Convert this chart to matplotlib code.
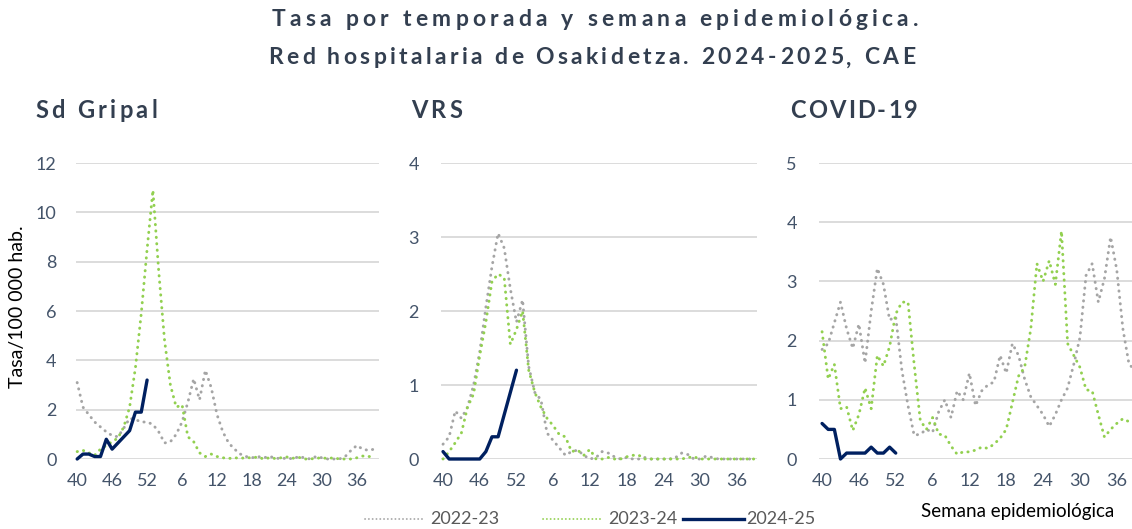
import numpy as np
import matplotlib
matplotlib.use('Agg')
import matplotlib.pyplot as plt
from matplotlib.font_manager import FontProperties
from matplotlib.lines import Line2D

plt.rcParams['font.family'] = ['Lato', 'DejaVu Sans']

# semanas epidemiologicas 40..52 y 1..39
weeks = list(range(40, 53)) + list(range(1, 40))
idx = np.arange(len(weeks))
season_labels = ['2022-23', '2023-24', '2024-25']

# Sd Gripal
gripe_2223 = [3.1, 2.1, 1.8, 1.5, 1.3, 1.1, 0.95, 0.9, 1.25, 1.65,
              1.6, 1.5, 1.5, 1.4, 1.1, 0.65, 0.7, 1.0, 1.5, 2.3,
              3.25, 2.4, 3.6, 2.9, 1.8, 1.1, 0.65, 0.4, 0.2, 0.1,
              0.05, 0.1, 0.05, 0.1, 0.05, 0.0, 0.05, 0.0, 0.1, 0.05,
              0.0, 0.1, 0.05, 0.0, 0.0, 0.0, 0.1, 0.35, 0.55, 0.4,
              0.35, 0.4]
gripe_2324 = [0.3, 0.35, 0.25, 0.15, 0.4, 0.55, 0.7, 0.85, 1.3, 2.1,
              3.7, 5.9, 8.5, 10.9, 7.6, 4.8, 3.0, 2.1, 2.2, 0.9,
              0.7, 0.25, 0.1, 0.2, 0.1, 0.05, 0.02, 0.05, 0.03, 0.05,
              0.05, 0.08, 0.0, 0.05, 0.02, 0.05, 0.08, 0.03, 0.07, 0.0,
              0.0, 0.03, 0.05, 0.02, 0.05, 0.0, 0.0, 0.0, 0.05, 0.12,
              0.1, 0.1]
gripe_2425 = [0.0, 0.2, 0.2, 0.1, 0.1, 0.8, 0.4, 0.65, 0.9, 1.15, 1.9, 1.9, 3.2]

# VRS
vrs_2223 = [0.2, 0.3, 0.65, 0.55, 0.7, 1.0, 1.45, 2.05, 2.6, 3.05,
            2.85, 2.3, 1.85, 2.15, 1.25, 0.9, 0.8, 0.35, 0.25, 0.15,
            0.05, 0.1, 0.12, 0.05, 0.0, 0.02, 0.1, 0.08, 0.03, 0.0,
            0.02, 0.0, 0.0, 0.02, 0.0, 0.0, 0.0, 0.0, 0.02, 0.08,
            0.06, 0.0, 0.0, 0.04, 0.02, 0.0, 0.0, 0.0, 0.0, 0.0,
            0.0, 0.0]
vrs_2324 = [0.0, 0.1, 0.22, 0.35, 0.7, 0.88, 1.4, 1.85, 2.4, 2.5,
            2.45, 1.55, 1.75, 2.0, 1.2, 0.9, 0.7, 0.55, 0.45, 0.33,
            0.3, 0.1, 0.12, 0.05, 0.13, 0.0, 0.0, 0.02, 0.0, 0.0,
            0.03, 0.05, 0.05, 0.0, 0.0, 0.0, 0.0, 0.0, 0.0, 0.0,
            0.02, 0.03, 0.0, 0.0, 0.0, 0.0, 0.0, 0.0, 0.0, 0.0,
            0.0, 0.0]
vrs_2425 = [0.1, 0.0, 0.0, 0.0, 0.0, 0.0, 0.0, 0.1, 0.3, 0.3, 0.6, 0.9, 1.2]

# COVID-19
covid_2223 = [1.85, 1.95, 2.3, 2.65, 2.2, 1.87, 2.28, 1.62, 2.5, 3.22,
              2.95, 2.35, 2.4, 1.5, 0.9, 0.4, 0.42, 0.5, 0.45, 0.8,
              1.0, 0.7, 1.15, 1.0, 1.45, 0.9, 1.15, 1.25, 1.3, 1.75,
              1.45, 1.95, 1.75, 1.35, 1.05, 0.9, 0.75, 0.55, 0.75, 1.0,
              1.2, 1.6, 2.05, 3.1, 3.3, 2.65, 3.05, 3.75, 3.2, 2.2,
              1.6, 1.5]
covid_2324 = [2.15, 1.35, 1.6, 0.85, 0.88, 0.48, 0.75, 1.2, 0.85, 1.75,
              1.57, 1.9, 2.45, 2.65, 2.65, 1.6, 0.65, 0.5, 0.7, 0.42,
              0.4, 0.22, 0.08, 0.12, 0.12, 0.15, 0.2, 0.18, 0.25, 0.35,
              0.5, 0.95, 1.4, 1.55, 2.2, 3.3, 3.0, 3.35, 2.95, 3.85,
              1.95, 1.75, 1.55, 1.17, 1.15, 0.75, 0.37, 0.5, 0.6, 0.68,
              0.63, 0.62]
covid_2425 = [0.6, 0.5, 0.5, 0.0, 0.1, 0.1, 0.1, 0.1, 0.2, 0.1, 0.1, 0.2, 0.1]

W, H = 1132, 529
fig = plt.figure(figsize=(W / 100, H / 100), dpi=100)
renderer = fig.canvas.get_renderer()

text_col = '#333F50'
tick_col = '#44546A'
colors = ['#A5A5A5', '#92D050', '#002060']
dot = (0, (0.1, 2.1))


def px_axes(left, right, top, bottom):
    return fig.add_axes([left / W, 1 - bottom / H, (right - left) / W, (bottom - top) / H])


def spaced_text(s, x, y, width, size):
    # bold text stretched with letter spacing to a target width (pixels)
    fp = FontProperties(family='Lato', weight='bold', size=size)
    bar = renderer.get_text_width_height_descent('|', fp, ismath=False)[0]
    natural = renderer.get_text_width_height_descent(s, fp, ismath=False)[0]
    gap = (width - natural) / (len(s) - 1)
    for k, c in enumerate(s):
        if c == ' ':
            continue
        adv = renderer.get_text_width_height_descent(s[:k] + '|', fp, ismath=False)[0] - bar if k else 0
        fig.text((x + adv + k * gap) / W, 1 - y / H, c, fontproperties=fp,
                 color=text_col, ha='left', va='center')


panels = [
    ('Sd Gripal', gripe_2223, gripe_2324, gripe_2425, 12, 2, (76, 379), (-0.2, 51.8), 35, 122, 14),
    ('VRS', vrs_2223, vrs_2324, vrs_2425, 4, 1, (441, 757), (-0.33, 51.3), 411, 51, 16),
    ('COVID-19', covid_2223, covid_2324, covid_2425, 5, 1, (819, 1137), (-0.5, 51.3), 790, 128, 16),
]

for name, s1, s2, s3, ymax, step, (x0, x1), xl, tx, tw, pad in panels:
    ax = px_axes(x0, x1, 163, 459)
    ax.plot(idx, s1, color=colors[0], lw=2.1, ls=dot, dash_capstyle='round', clip_on=False)
    ax.plot(idx, s2, color=colors[1], lw=2.1, ls=dot, dash_capstyle='round', clip_on=False)
    ax.plot(idx[:len(s3)], s3, color=colors[2], lw=2.4, solid_capstyle='round',
            clip_on=False, zorder=5)
    ax.set_xlim(*xl)
    ax.set_ylim(0, ymax)
    ax.set_yticks(np.arange(0, ymax + 0.01, step))
    ax.set_xticks(idx[::6])
    ax.set_xticklabels([str(w) for w in weeks[::6]])
    ax.grid(axis='y', color='#D9D9D9', lw=1.3)
    ax.set_axisbelow(True)
    for sp in ax.spines.values():
        sp.set_visible(False)
    ax.tick_params(axis='both', length=0, labelsize=13, labelcolor=tick_col)
    ax.tick_params(axis='y', pad=pad)
    ax.tick_params(axis='x', pad=10)
    spaced_text(name, tx, 110, tw, 17)

spaced_text('Tasa por temporada y semana epidemiológica.', 272, 20, 646, 16.5)
spaced_text('Red hospitalaria de Osakidetza. 2024-2025, CAE', 268, 58, 647, 16.5)

fig.text(18 / W, 1 - 307 / H, 'Tasa/100 000 hab.', rotation=90, ha='center', va='center',
         fontsize=14, color='black')
fig.text(1018 / W, 1 - 512 / H, 'Semana epidemiológica', ha='center', va='center',
         fontsize=13.5, color='black')

# leyenda inferior
leg_y = 1 - 519 / H
for (sx, tx), lab, col in zip([(365, 430), (543, 608), (683, 746)], season_labels, colors):
    if col == colors[2]:
        ln = Line2D([sx / W, 744 / W], [leg_y, leg_y], transform=fig.transFigure,
                    color=col, lw=2.4)
    else:
        ln = Line2D([sx / W, (sx + 60) / W], [leg_y, leg_y], transform=fig.transFigure,
                    color=col, lw=1.3, ls=(0, (0.1, 2.0)), dash_capstyle='round')
    fig.add_artist(ln)
    fig.text(tx / W, leg_y, lab, ha='left', va='center', fontsize=13, color='#595959')

fig.savefig('out.png', dpi=100)
